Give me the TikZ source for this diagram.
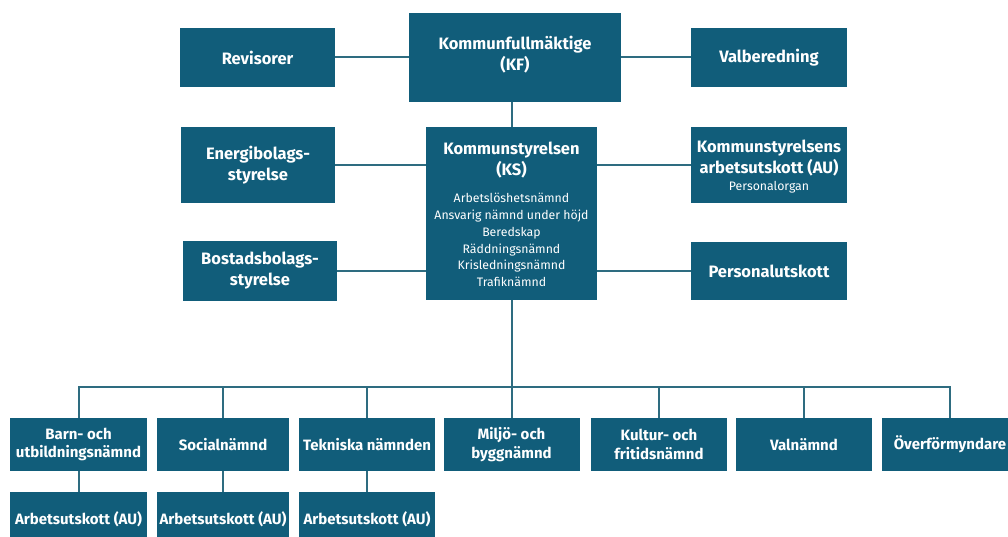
\documentclass[tikz,border=0pt]{standalone}
\usepackage{fontspec}
\setmainfont{Fira Sans}
\definecolor{boxfill}{HTML}{115D7A}
\definecolor{linecol}{HTML}{2E6C80}
\begin{document}
\begin{tikzpicture}[x=1pt,y=-1pt,
  orgbox/.style={fill=boxfill,draw=none,inner sep=0pt,text=white,align=center,
     font=\bfseries\fontsize{16.5}{21}\selectfont},
  lowbox/.style={orgbox,font=\bfseries\fontsize{15}{18.5}\selectfont},
  smalltext/.style={text=white,align=center,inner sep=0pt,font=\fontsize{12.3}{16.7}\selectfont},
  conn/.style={draw=linecol,line width=2pt}]
\useasboundingbox[fill=white] (0,0) rectangle (1008,537);
% top level
\node[orgbox,minimum width=155,minimum height=59] (rev) at (257.5,57.5) {Revisorer};
\node[orgbox,minimum width=212,minimum height=89] (kf) at (515,57.5) {};
\node[orgbox] (kftitle) at (515,55) {Kommunfullmäktige\\(KF)};
\node[orgbox,minimum width=156,minimum height=59] (valb) at (769,57.5) {Valberedning};
% middle level
\node[orgbox,minimum width=154,minimum height=76] (energi) at (258,165) {Energibolags-\\styrelse};
\node[orgbox,minimum width=154,minimum height=60] (bostad) at (260,271) {Bostadsbolags-\\styrelse};
\node[orgbox,minimum width=171,minimum height=173] (ks) at (511.5,213.5) {};
\node[orgbox] (kstitle) at (511.5,160) {Kommunstyrelsen\\(KS)};
\node[smalltext] (kslist) at (511.5,240) {Arbetslöshetsnämnd\\Ansvarig nämnd under höjd\\Beredskap\\Räddningsnämnd\\Krisledningsnämnd\\Trafiknämnd};
\node[orgbox,minimum width=156,minimum height=76] (ksau) at (769,165) {};
\node[orgbox] (ksautitle) at (769,158) {Kommunstyrelsens\\arbetsutskott (AU)};
\node[smalltext] (ksausub) at (769,187) {Personalorgan};
\node[orgbox,minimum width=156,minimum height=58] (pers) at (769,271) {Personalutskott};
% bottom level
\node[lowbox,minimum width=137,minimum height=53] (b1) at (78.5,444.5) {Barn- och\\utbildningsnämnd};
\node[lowbox,minimum width=132,minimum height=53] (b2) at (223,444.5) {Socialnämnd};
\node[lowbox,minimum width=136,minimum height=53] (b3) at (367,444.5) {Tekniska nämnden};
\node[lowbox,minimum width=136,minimum height=53] (b4) at (511.5,444.5) {Miljö- och\\byggnämnd};
\node[lowbox,minimum width=136,minimum height=53] (b5) at (659,444.5) {Kultur- och\\fritidsnämnd};
\node[lowbox,minimum width=136,minimum height=53] (b6) at (804,444.5) {Valnämnd};
\node[lowbox,minimum width=136,minimum height=53] (b7) at (950,444.5) {Överförmyndare};
\node[lowbox,minimum width=137,minimum height=54] (a1) at (78.5,519) {Arbetsutskott (AU)};
\node[lowbox,minimum width=132,minimum height=54] (a2) at (223,519) {Arbetsutskott (AU)};
\node[lowbox,minimum width=136,minimum height=54] (a3) at (367,519) {Arbetsutskott (AU)};
% connectors
\coordinate (busy) at (0,387);
\draw[conn] (rev.east) -- (kf.west);
\draw[conn] (kf.east) -- (valb.west);
\draw[conn] (ks.north) -- (ks.north |- kf.south);
\draw[conn] (energi.east) -- (energi.east -| ks.west);
\draw[conn] (bostad.east) -- (bostad.east -| ks.west);
\draw[conn] (ksau.west) -- (ksau.west -| ks.east);
\draw[conn] (pers.west) -- (pers.west -| ks.east);
\draw[conn] (ks.south) -- (ks.south |- busy);
\draw[conn] (b1.north) -- (b1.north |- busy) -- (b7.north |- busy) -- (b7.north);
\foreach \n in {b2,b3,b4,b5,b6} \draw[conn] (\n.north) -- (\n.north |- busy);
\draw[conn] (b1.south) -- (a1.north);
\draw[conn] (b2.south) -- (a2.north);
\draw[conn] (b3.south) -- (a3.north);
\end{tikzpicture}
\end{document}
